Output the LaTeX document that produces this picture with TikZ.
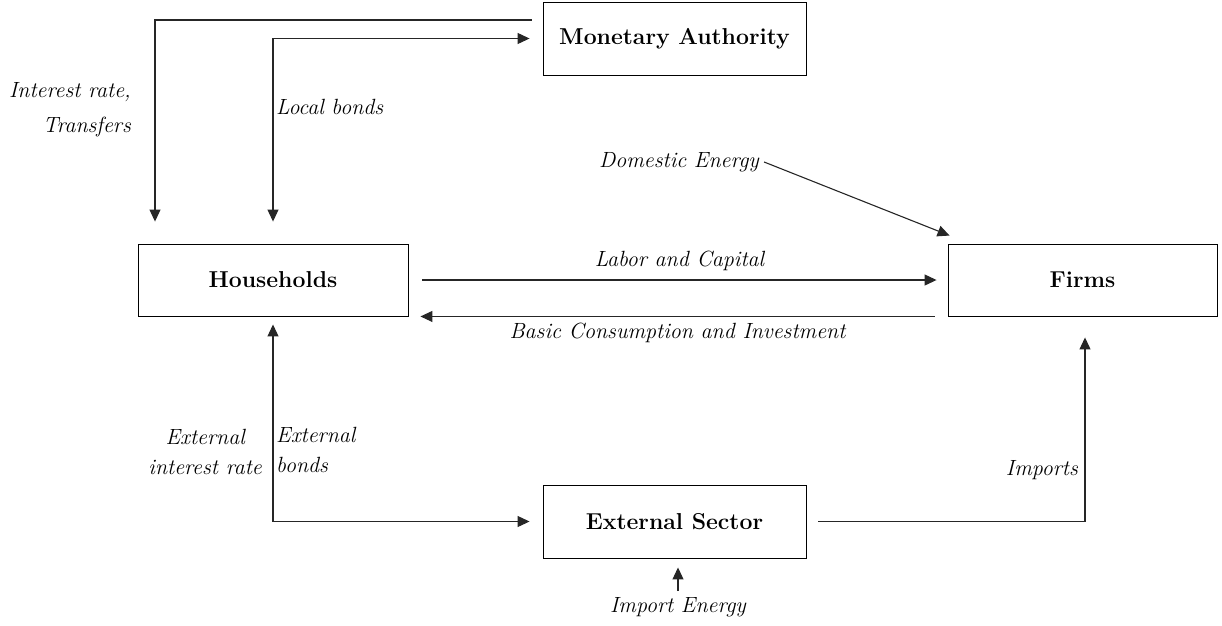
\documentclass[tikz,border=0pt]{standalone}
\usetikzlibrary{arrows.meta}
\begin{document}
\begin{tikzpicture}[x=1pt,y=-1pt,
  box/.style={draw, line width=0.9pt, minimum width=263pt, minimum height=73pt, inner sep=0pt, font=\fontsize{23}{27}\selectfont\bfseries},
  arr/.style={line width=1.1pt, draw=black!85, -{Triangle[length=12pt,width=11pt]}},
  both/.style={{Triangle[length=12pt,width=11pt]}-{Triangle[length=12pt,width=11pt]}},
  lab/.style={font=\fontsize{22}{30}\selectfont\itshape, inner sep=0pt}]
\useasboundingbox (0,0) rectangle (1222,625);
% boxes
\node[box] (ma) at (674.5,38.5) {Monetary Authority};
\node[box, minimum width=270pt, minimum height=72pt] (hh) at (273,280) {Households};
\node[box, minimum width=269pt, minimum height=72pt] (fi) at (1082.5,280) {Firms};
\node[box] (es) at (674.5,521.5) {External Sector};
% labels
\node[lab, align=right, anchor=east, font=\fontsize{22}{35}\selectfont\itshape] (irl) at (131,110) {Interest rate,\\Transfers};
\node[lab, anchor=west] (lbl) at (276,107) {Local bonds};
\node[lab] (de) at (679,162) {Domestic Energy};
\node[lab, align=center, anchor=east] (eir) at (262,452) {External\\interest rate};
\node[lab, align=left, anchor=west] (ebl) at (276,450) {External\\bonds};
\node[lab, anchor=east] (iml) at (1078,470) {Imports};
\node[lab] (ie) at (678,607) {Import Energy};
% connectors
\draw[arr] ([xshift=-11pt]ma.west |- 0,20) -| ([yshift=22pt]hh.north -| 155,0);
\draw[arr, both] ([yshift=22pt]hh.north) |- ([xshift=-13pt]ma.west);
\draw[arr] ([xshift=14pt]hh.east) -- ([xshift=-11pt]fi.west)
  node[lab, midway, above=9pt] {Labor and Capital};
\draw[arr] ([xshift=-13pt]fi.south west) -- ([xshift=12pt]hh.south east)
  node[lab, midway, below=6pt] {Basic Consumption and Investment};
\draw[arr] ([xshift=5pt]de.east) -- ([xshift=2pt,yshift=8pt]fi.north west);
\draw[arr, both] ([yshift=-8pt]hh.south) |- ([xshift=-13pt]es.west);
\draw[arr] ([xshift=12pt]es.east) -| ([xshift=2.5pt,yshift=-21pt]fi.south);
\draw[arr] ([yshift=6pt]ie.north) -- ([yshift=-9pt]ie.north |- es.south);
\end{tikzpicture}
\end{document}
